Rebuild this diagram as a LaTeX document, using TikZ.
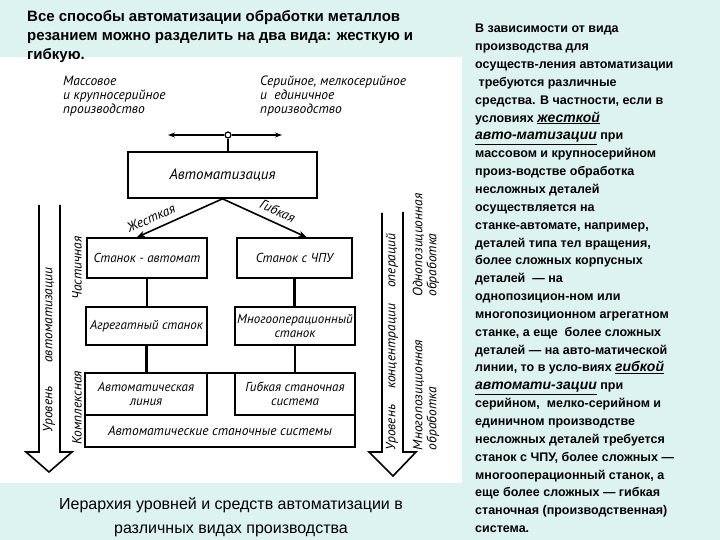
\documentclass[tikz,border=0pt]{standalone}
\usepackage{fontspec}
\setmainfont{Liberation Sans}
\newfontfamily\handfont{PT Sans}
\usetikzlibrary{arrows.meta,positioning,calc}
\definecolor{mint}{RGB}{221,243,239}
\newcommand{\uwd}[1]{\underline{\textit{\fontsize{14}{17}\selectfont #1}}}
\tikzset{
  box/.style={draw, line width=1.6pt, minimum width=120pt, minimum height=40pt, inner sep=2pt, align=center, font=\handfont\itshape\fontsize{13}{14}\selectfont},
  hand/.style={inner sep=0pt, align=left, font=\handfont\itshape\fontsize{13.5}{14}\selectfont},
  link/.style={line width=2.4pt},
  arr/.style={-{Stealth[length=8pt,width=6pt]}, line width=1.6pt},
  lever/.style={-{Stealth[length=7pt,width=5pt]}, line width=2pt},
  hollow/.style={line width=1.6pt, line join=miter},
}

\begin{document}
\begin{tikzpicture}[x=1pt,y=-1pt]
\useasboundingbox (0,0) rectangle (720,540);
\fill[mint] (0,0) rectangle (720,540);
\fill[white] (0,57) rectangle (462,483);
% title and side text
\node[anchor=north west, inner sep=0pt, align=left, font=\bfseries\fontsize{15}{19}\selectfont] (title) at (27,10)
  {Все способы автоматизации обработки металлов\\резанием можно разделить на два вида: жесткую и\\гибкую.};
\node[anchor=north west, inner sep=0pt, align=left, font=\bfseries\fontsize{12.5}{17.85}\selectfont] (side) at (475,24)
  {В зависимости от вида\\производства для\\осуществ-ления автоматизации\\ \ требуются различные\\средства. В частности, если в\\условиях \uwd{жесткой}\\\uwd{авто-матизации} при\\массовом и крупносерийном\\произ-водстве обработка\\несложных деталей\\осуществляется на\\станке-автомате, например,\\деталей типа тел вращения,\\более сложных корпусных\\деталей \ — на\\однопозицион-ном или\\многопозиционном агрегатном\\станке, а еще \ более сложных\\деталей — на авто-матической\\линии, то в усло-виях \uwd{гибкой}\\\uwd{автомати-зации} при\\серийном, \ мелко-серийном и\\единичном производстве\\несложных деталей требуется\\станок с ЧПУ, более сложных —\\многооперационный станок, а\\еще более сложных — гибкая\\станочная (производственная)\\система.};
\node[align=center, inner sep=0pt, font=\fontsize{16}{24}\selectfont] (cap) at (231,517)
  {Иерархия уровней и средств автоматизации в\\различных видах производства};

% production types and switch
\node[hand, anchor=north west] (mass) at (63,76) {Массовое\\и крупносерийное\\производство};
\node[hand, anchor=north west] (ser) at (260,76) {Серийное, мелкосерийное\\и \ единичное\\производство};
\node[circle, draw, line width=1.2pt, fill=white, inner sep=0pt, minimum size=6pt] (sw) at (228,135) {};
\coordinate (swL) at (168,135);
\coordinate (swR) at (282,135);
\draw[lever] (sw) -- (swL);
\draw[lever] (sw) -- (swR);

% boxes
\node[box, minimum width=189pt, minimum height=46pt, font=\handfont\itshape\fontsize{15}{16}\selectfont] (auto) at (222.5,175) {Автоматизация};
\node[box] (sa) at (147,258) {Станок - автомат};
\node[box, minimum width=115pt] (chpu) at (294.5,258) {Станок с ЧПУ};
\node[box, minimum width=121pt, minimum height=38pt] (agr) at (146.5,326) {Агрегатный станок};
\node[box, minimum height=38pt] (mop) at (295,326) {Многооперационный\\станок};
\node[box, minimum width=270pt, minimum height=74pt] (big) at (220,410) {};
\node[box, minimum width=122pt, minimum height=42pt] (al) at (146,394) {Автоматическая\\линия};
\node[box, minimum height=42pt] (gss) at (295,394) {Гибкая станочная\\система};
\node[hand] (asys) at (220,431) {Автоматические станочные системы};

% connectors
\draw[link] (sw) -- (sw |- auto.north);
\draw[arr] (auto.south) -- node[hand, sloped, above=6pt, pos=0.78] {Жесткая} ([xshift=-10pt]sa.north);
\draw[arr] (auto.south) -- node[hand, sloped, above=6pt, pos=0.6] {Гибкая} ([xshift=12pt]chpu.north);
\draw[link] (sa.south) -- (sa.south |- agr.north);
\draw[link] (chpu.south) -- (chpu.south |- mop.north);
\draw[link] (agr.south) -- (agr.south |- big.north);
\draw[link] (mop.south) -- (mop.south |- big.north);

% level arrows
\draw[hollow] (39,205) -- (39,452) -- (26,452) -- (49,472) -- (72,452) -- (60,452) -- (60,205);
\draw[hollow] (382,213) -- (382,452) -- (369,452) -- (393,476) -- (416,452) -- (403,452) -- (403,212);
\node[hand, rotate=90] (lvlA) at (49,350) {Уровень\hspace{24pt}автоматизации};
\node[hand, rotate=90] (part) at (77,268) {Частичная};
\node[hand, rotate=90] (compl) at (77,408) {Комплексная};
\node[hand, rotate=90] (lvlC) at (392,342) {Уровень\hspace{16pt}концентрации\hspace{16pt}операций};
\node[hand, rotate=90] (single) at (426,245) {Однопозиционная\\обработка};
\node[hand, rotate=90] (multi) at (426,395) {Многопозиционная\\обработка};
\end{tikzpicture}
\end{document}
